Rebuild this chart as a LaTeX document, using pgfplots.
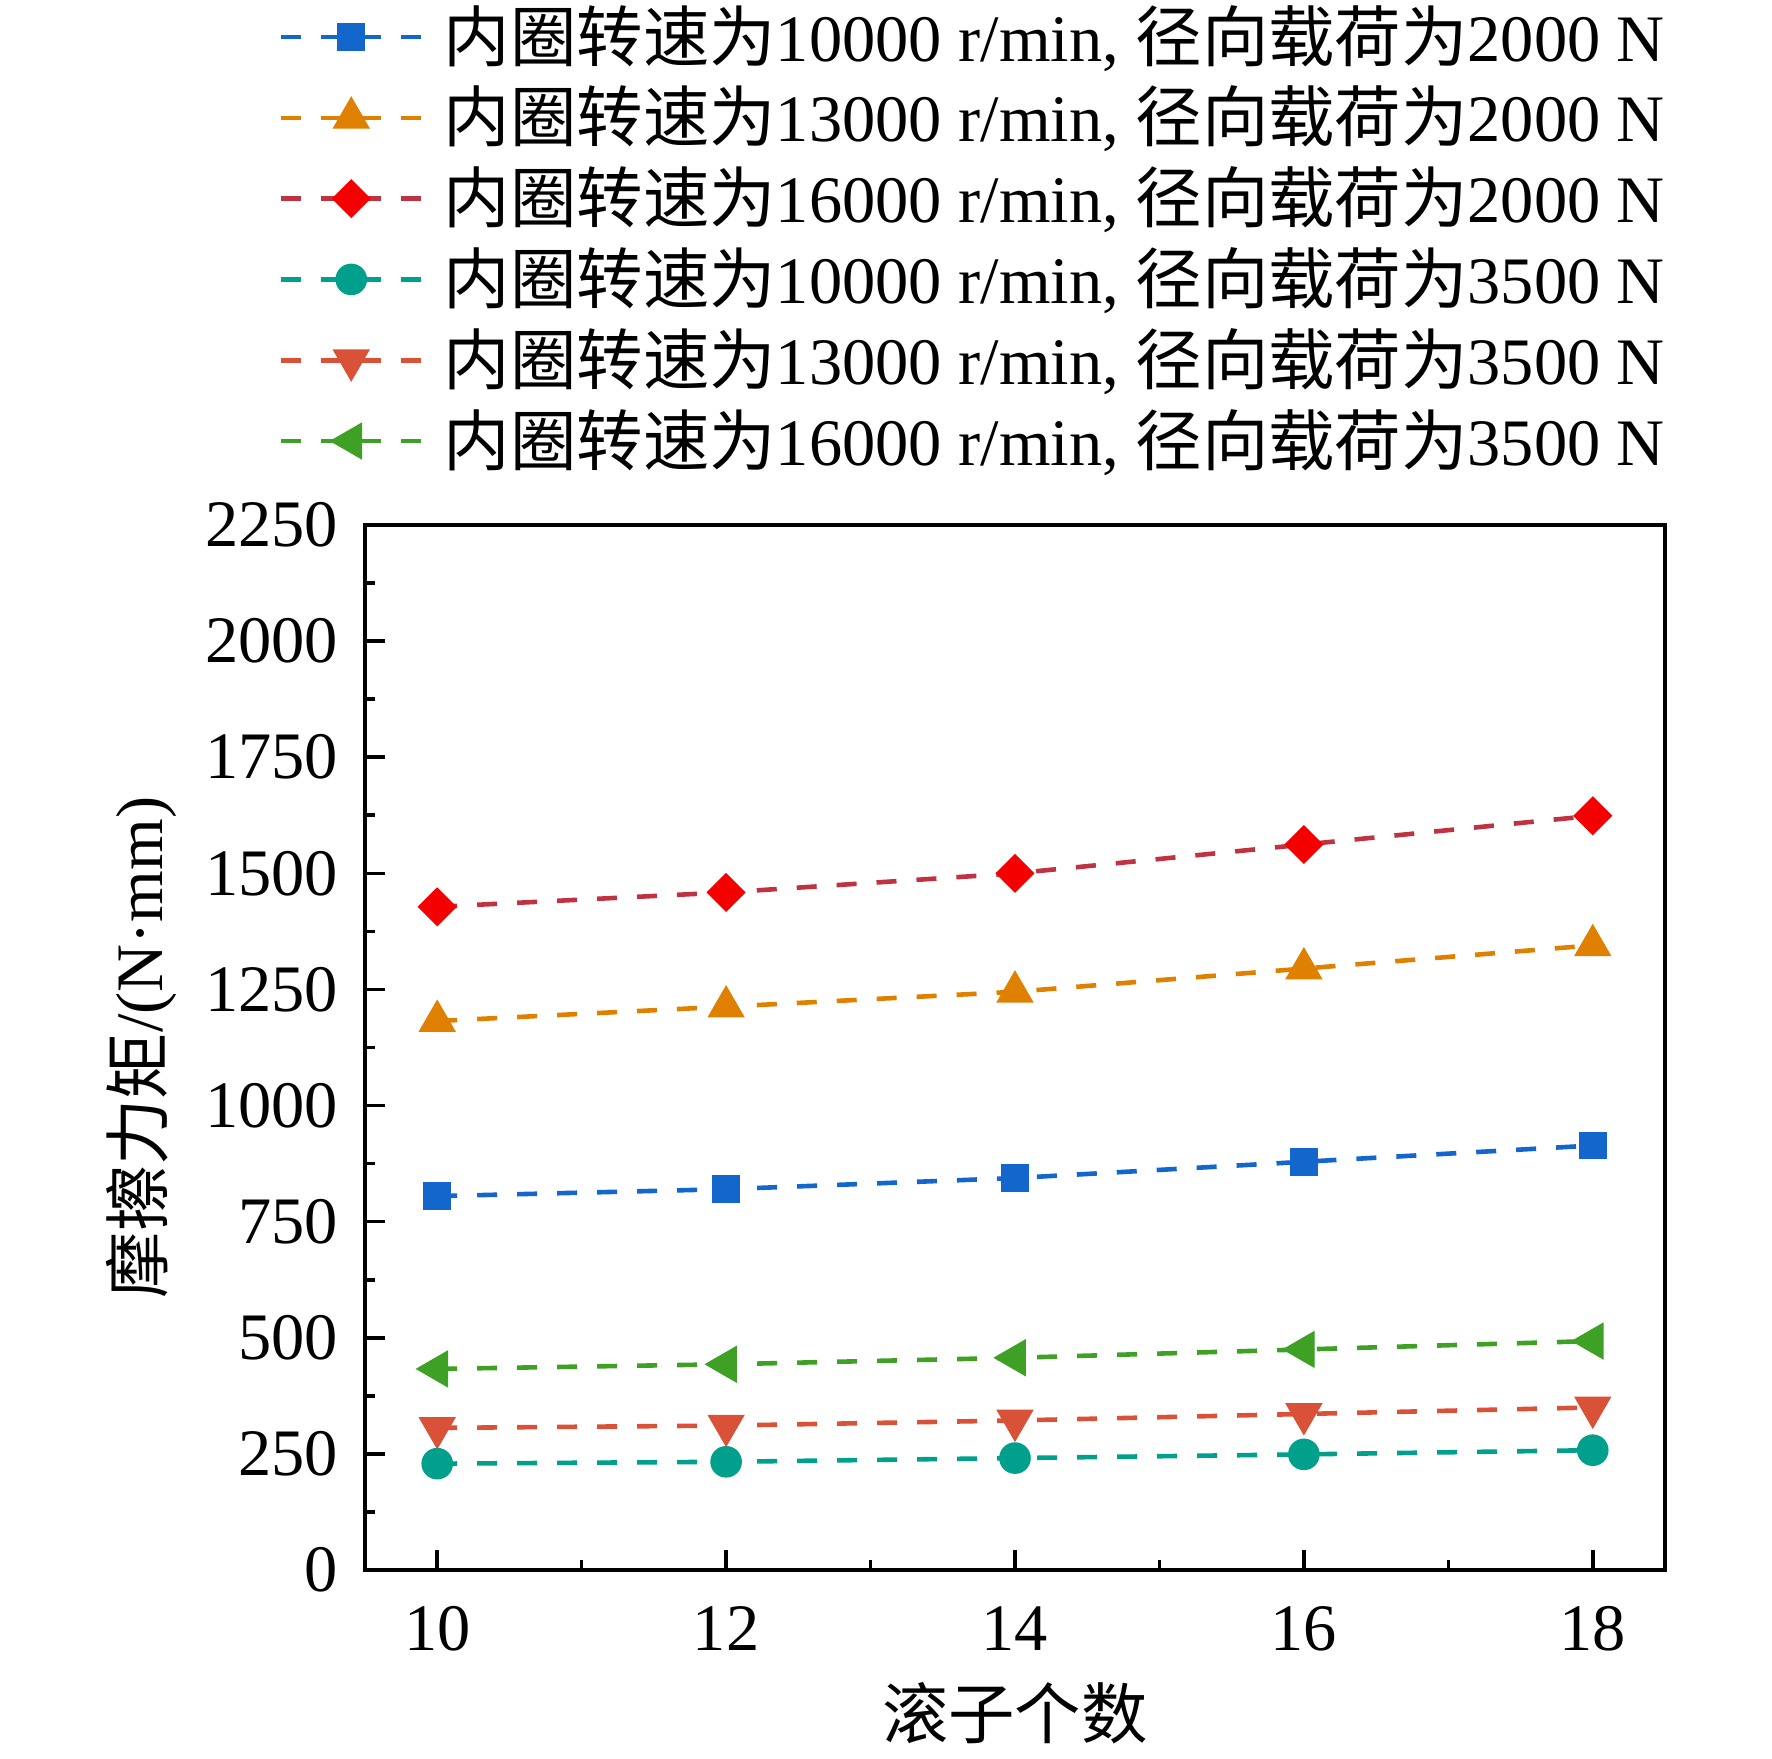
\documentclass[border=0pt]{standalone}
\usepackage{fontspec}
\setmainfont{Liberation Serif}
\newfontfamily\cjk{Noto Sans CJK SC}
\usepackage{pgfplots}
\pgfplotsset{compat=1.18}
\definecolor{cblue}{RGB}{18,102,204}
\definecolor{corange}{RGB}{224,128,0}
\definecolor{credm}{RGB}{245,0,0}
\definecolor{credl}{RGB}{190,50,65}
\definecolor{cteal}{RGB}{0,160,140}
\definecolor{cror}{RGB}{217,82,56}
\definecolor{cgreen}{RGB}{62,160,36}
\begin{document}
\begin{tikzpicture}[font=\fontsize{16.6pt}{20pt}\selectfont]
\begin{axis}[
  scale only axis,
  width=325pt, height=261.25pt,
  xmin=9.5, xmax=18.5, ymin=0, ymax=2250,
  xtick={10,12,14,16,18},
  ytick={0,250,500,750,1000,1250,1500,1750,2000,2250},
  minor x tick num=1, minor y tick num=1,
  tick align=inside,
  xtick pos=bottom, ytick pos=left,
  major tick length=5pt, minor tick length=2.5pt,
  axis line style={line width=0.9pt},
  every tick/.style={black, line width=0.9pt},
  /pgf/number format/assume math mode=true,
  /pgf/number format/1000 sep={},
  xticklabel style={anchor=north, inner sep=0pt, yshift=-9pt},
  yticklabel style={anchor=east, inner sep=0pt, xshift=-6.5pt},
  xlabel={{\cjk 滚子个数}},
  ylabel={{\cjk 摩擦力矩}/(N·mm)},
  xlabel style={at={([yshift=-35.7pt]axis description cs:0.5,0)}, anchor=center, inner sep=0pt},
  ylabel style={at={([xshift=-56pt]axis description cs:0,0.5)}, anchor=center, inner sep=0pt},
  legend cell align=left,
  legend style={at={(1,1)}, anchor=south east, yshift=14pt, draw=none, fill=none,
    inner sep=0pt, outer sep=0pt, row sep=6.2pt, column sep=5pt,
    nodes={inner sep=0pt, text height=13pt, text depth=1pt}},
  legend image code/.code={\draw[mark repeat=2,mark phase=2,#1] plot coordinates {(0pt,0pt) (17.6pt,0pt) (35.2pt,0pt)};},
  every axis plot/.append style={line width=1.15pt, dash pattern=on 5pt off 5pt},
]
\addplot[cblue, mark=square*, mark size=3.3pt, mark options={solid, fill=cblue, draw=cblue, line width=0.3pt}]
  coordinates {(10,805) (12,820) (14,844) (16,879) (18,914)};
\addlegendentry{{\cjk 内圈转速为}10000 r/min, {\cjk 径向载荷为}2000 N}
\addplot[corange, mark=triangle*, mark size=5.1pt, mark options={solid, fill=corange, draw=corange, line width=0.3pt}]
  coordinates {(10,1182) (12,1213) (14,1245) (16,1295) (18,1345)};
\addlegendentry{{\cjk 内圈转速为}13000 r/min, {\cjk 径向载荷为}2000 N}
\addplot[credl, mark=square*, mark size=3.3pt, mark options={solid, fill=credm, draw=credm, line width=0.3pt, rotate=45}]
  coordinates {(10,1428) (12,1459) (14,1500) (16,1562) (18,1624)};
\addlegendentry{{\cjk 内圈转速为}16000 r/min, {\cjk 径向载荷为}2000 N}
\addplot[cteal, mark=*, mark size=3.8pt, mark options={solid, fill=cteal, draw=cteal, line width=0.3pt}]
  coordinates {(10,229) (12,233) (14,241) (16,249) (18,258)};
\addlegendentry{{\cjk 内圈转速为}10000 r/min, {\cjk 径向载荷为}3500 N}
\addplot[cror, mark=triangle*, mark size=5.1pt, mark options={solid, fill=cror, draw=cror, line width=0.3pt, rotate=180}]
  coordinates {(10,306) (12,311) (14,322) (16,336) (18,350)};
\addlegendentry{{\cjk 内圈转速为}13000 r/min, {\cjk 径向载荷为}3500 N}
\addplot[cgreen, mark=triangle*, mark size=5.1pt, mark options={solid, fill=cgreen, draw=cgreen, line width=0.3pt, rotate=90}]
  coordinates {(10,433) (12,443) (14,457) (16,475) (18,493)};
\addlegendentry{{\cjk 内圈转速为}16000 r/min, {\cjk 径向载荷为}3500 N}
\end{axis}
\pgfresetboundingbox
\path[use as bounding box] (-91.25pt,-47pt) rectangle (351.75pt,392.5pt);
\end{tikzpicture}
\end{document}
